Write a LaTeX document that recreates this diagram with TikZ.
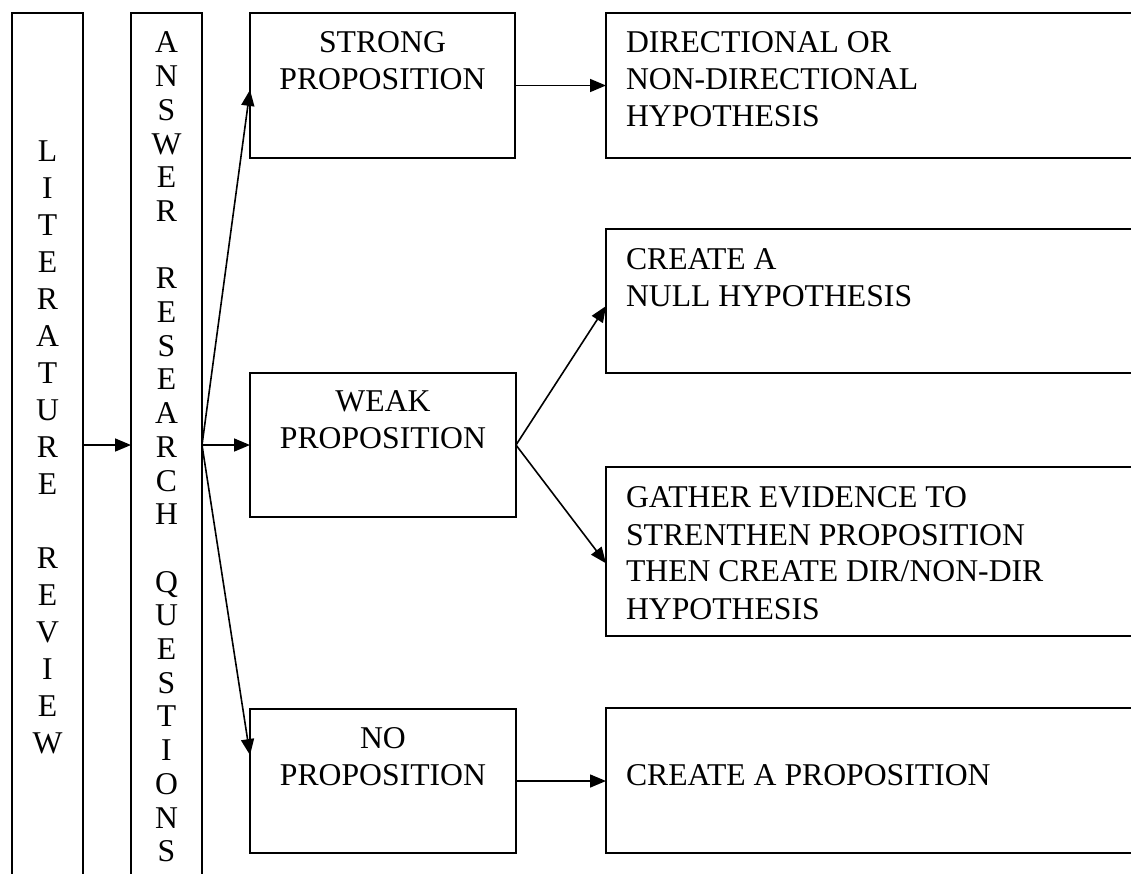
\documentclass[tikz,border=0pt]{standalone}
\usepackage{fontspec}
\setmainfont{Liberation Serif}
\usetikzlibrary{arrows.meta,calc}
\newcommand\ctext[5]{\parbox[c][#2][t]{#1}{\fontsize{31.7}{#3}\selectfont\centering\vspace*{#4}#5\par}}
\newcommand\ltext[4]{\parbox[c][#2][t]{#1}{\fontsize{31.7}{37}\selectfont\raggedright\leftskip=20pt\vspace*{#3}#4\par}}
\tikzset{
  box/.style={draw, line width=1.8pt, inner sep=0pt, outer sep=0pt, anchor=north west},
  conn/.style={line width=1.6pt, -{Triangle[length=16pt,width=13pt]}},
}
\begin{document}
\begin{tikzpicture}[x=1pt,y=-1pt]
\useasboundingbox (0,0) rectangle (1131,873);
\clip (0,0) rectangle (1131,873);
\fill[white] (0,0) rectangle (1131,873);

\node[box] (lit) at (12,13) {\ctext{71pt}{900pt}{37pt}{128pt}{L\\I\\T\\E\\R\\A\\T\\U\\R\\E\\~\\R\\E\\V\\I\\E\\W}};
\node[box] (ans) at (131,13) {\ctext{71pt}{900pt}{33.7pt}{19pt}{A\\N\\S\\W\\E\\R\\~\\R\\E\\S\\E\\A\\R\\C\\H\\~\\Q\\U\\E\\S\\T\\I\\O\\N\\S}};

\node[box] (strong) at (250,13) {\ctext{265pt}{145pt}{37pt}{19pt}{STRONG\\PROPOSITION}};
\node[box] (weak) at (250,373) {\ctext{266pt}{144pt}{37pt}{18pt}{WEAK\\PROPOSITION}};
\node[box] (noprop) at (250,709) {\ctext{266pt}{144pt}{37pt}{18pt}{NO\\PROPOSITION}};

\node[box] (dir) at (606,13) {\ltext{560pt}{145pt}{19pt}{DIRECTIONAL OR\\NON-DIRECTIONAL\\HYPOTHESIS}};
\node[box] (null) at (606,229) {\ltext{560pt}{144pt}{20pt}{CREATE A\\NULL HYPOTHESIS}};
\node[box] (gather) at (606,467) {\ltext{560pt}{169pt}{20pt}{GATHER EVIDENCE TO\\STRENTHEN PROPOSITION\\THEN CREATE DIR/NON-DIR\\HYPOTHESIS}};
\node[box] (create) at (606,708) {\ltext{560pt}{145pt}{56pt}{CREATE A PROPOSITION}};

\coordinate (hub) at (ans.east |- weak.west);
\draw[conn] (lit.east |- weak.west) -- (ans.west |- weak.west);
\draw[conn] (hub) -- ($(strong.north west)!0.53!(strong.south west)$);
\draw[conn] (hub) -- (weak.west);
\draw[conn] (hub) -- ($(noprop.north west)!0.32!(noprop.south west)$);
\draw[conn] (strong.east) -- (dir.west |- strong.east);
\draw[conn] (weak.east) -- ($(null.north west)!0.535!(null.south west)$);
\draw[conn] (weak.east) -- ($(gather.north west)!0.57!(gather.south west)$);
\draw[conn] (noprop.east) -- (create.west |- noprop.east);
\end{tikzpicture}
\end{document}
